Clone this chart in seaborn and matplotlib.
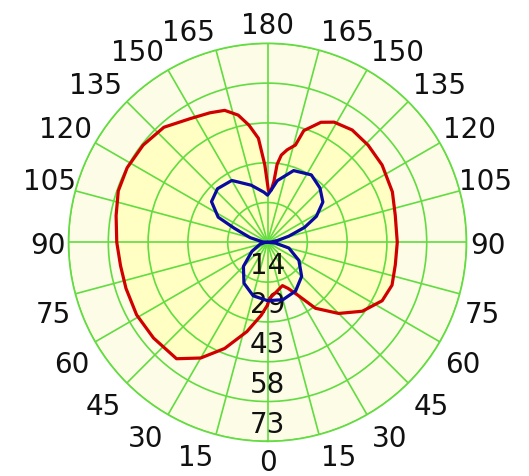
import numpy as np
import pandas as pd
import matplotlib
matplotlib.use('Agg')
import matplotlib.pyplot as plt
import seaborn as sns

# Radiation pattern (angle in degrees, 0 at bottom, 180 at top)
red_angle = [0, 5, 13, 22, 30, 38, 50, 61, 72, 81, 90, 100, 109, 118, 128, 138,
             148, 156, 162, 167, 171, 175, 178, 181, 184, 186, 187, 189, 192, 196,
             198, 204, 209, 217, 226, 236, 248, 258, 270, 280, 289, 297, 306, 315,
             324, 330, 336, 341, 350, 358]
red_value = [23.0, 26.9, 33.6, 42.0, 49.0, 54.2, 54.6, 54.9, 54.6, 54.6, 55.3, 56.4,
             57.9, 58.3, 57.9, 56.8, 53.5, 52.0, 50.9, 47.9, 43.5, 38.3, 28.4, 19.0,
             19.2, 22.5, 28.8, 32.4, 34.7, 37.1, 43.1, 48.2, 50.4, 51.6, 51.3, 50.7,
             49.4, 47.9, 47.6, 47.6, 48.3, 47.2, 43.0, 36.9, 29.9, 22.5, 18.5, 16.8,
             18.5, 20.6]

blue_angle = [0, 15, 30, 45, 60, 75, 85, 90, 95, 105, 113, 117, 126, 137, 150, 164,
              176, 180, 184, 189, 200, 213, 224, 234, 242, 248, 254, 260, 265, 270,
              275, 285, 300, 315, 330, 345]
blue_value = [21.4, 20.3, 17.3, 12.5, 6.6, 2.9, 1.1, 0.0, 1.8, 6.6, 13.3, 20.3, 25.4,
              26.9, 26.2, 21.8, 18.4, 17.3, 19.2, 22.9, 28.0, 29.5, 27.7, 25.1, 20.3,
              14.7, 8.1, 3.7, 1.1, 0.0, 2.9, 8.1, 13.3, 17.7, 20.6, 21.8]

ring_values = [14.6, 29.2, 43.8, 58.4, 73.0]
ring_labels = ['14', '29', '43', '58', '73']

spoke_angles = [0, 15, 30, 45, 60, 75, 90, 105, 120, 135, 150, 165,
                180, 195, 210, 225, 240, 255, 270, 285, 300, 315, 330, 345]
spoke_labels = ['0', '15', '30', '45', '60', '75', '90', '105', '120', '135', '150', '165',
                '180', '165', '150', '135', '120', '105', '90', '75', '60', '45', '30', '15']

GRID = '#62DC40'
RMAX = 73.0
PX = RMAX / 199.0   # data units per pixel of radius


def closed(angles, values):
    df = pd.DataFrame({'theta': np.deg2rad(angles + [angles[0] + 360]),
                       'r': values + [values[0]]})
    return df


def main():
    sns.set_style('white')
    plt.rcParams['font.family'] = ['DejaVu Sans']

    fig = plt.figure(figsize=(5.29, 4.77), dpi=100)
    ax = fig.add_axes([0.1295, 0.0727, 0.7524, 0.8344], projection='polar')
    ax.set_theta_zero_location('S')
    ax.set_theta_direction(-1)
    ax.set_ylim(0, RMAX)
    ax.set_facecolor('#FCFCE7')
    ax.set_axisbelow('line')   # grid above the yellow fill, below the curves

    ax.set_thetagrids(spoke_angles, labels=[''] * len(spoke_angles))
    ax.set_rgrids(ring_values, labels=[''] * len(ring_values))
    ax.grid(True, color=GRID, linewidth=1.2)
    ax.spines['polar'].set_color(GRID)
    ax.spines['polar'].set_linewidth(1.2)
    ax.tick_params(length=0)

    red = closed(red_angle, red_value)
    blue = closed(blue_angle, blue_value)

    # yellow fill inside the red pattern
    ax.fill(red['theta'], red['r'], color='#FFFFC4', zorder=1)

    sns.lineplot(data=red, x='theta', y='r', sort=False, estimator=None,
                 color='#D00000', linewidth=2.3, ax=ax, zorder=4)
    sns.lineplot(data=blue, x='theta', y='r', sort=False, estimator=None,
                 color='#0A0AA0', linewidth=2.3, ax=ax, zorder=4)
    ax.set_xlabel('')
    ax.set_ylabel('')

    # ring labels along the bottom spoke
    for val, txt in zip(ring_values, ring_labels):
        ax.text(0, val - 6.4, txt, ha='center', va='center', fontsize=20,
                color='#111111', zorder=3)

    # angle labels round the rim
    for ang, txt in zip(spoke_angles, spoke_labels):
        v = ang if ang <= 180 else 360 - ang
        u = v if v <= 90 else 180 - v
        top = v > 90
        if 0 < u < 90:
            shift = 4 * np.cos(np.deg2rad(2 * u)) + (2 if top else 0)
        else:
            shift = 0
        nv = v + shift if v < 90 else v - shift
        na = nv if ang <= 180 else 360 - nv
        s2 = np.sin(np.deg2rad(2 * u))
        rad = 220 + 12 * s2 + (3 * s2 if top else 0)
        va = 'center_baseline' if v >= 90 else 'center'
        ax.text(np.deg2rad(na), rad * PX, txt, ha='center', va=va,
                fontsize=20, color='#111111', clip_on=False)

    fig.savefig('out.png', dpi=100, facecolor='white')


if __name__ == '__main__':
    main()
